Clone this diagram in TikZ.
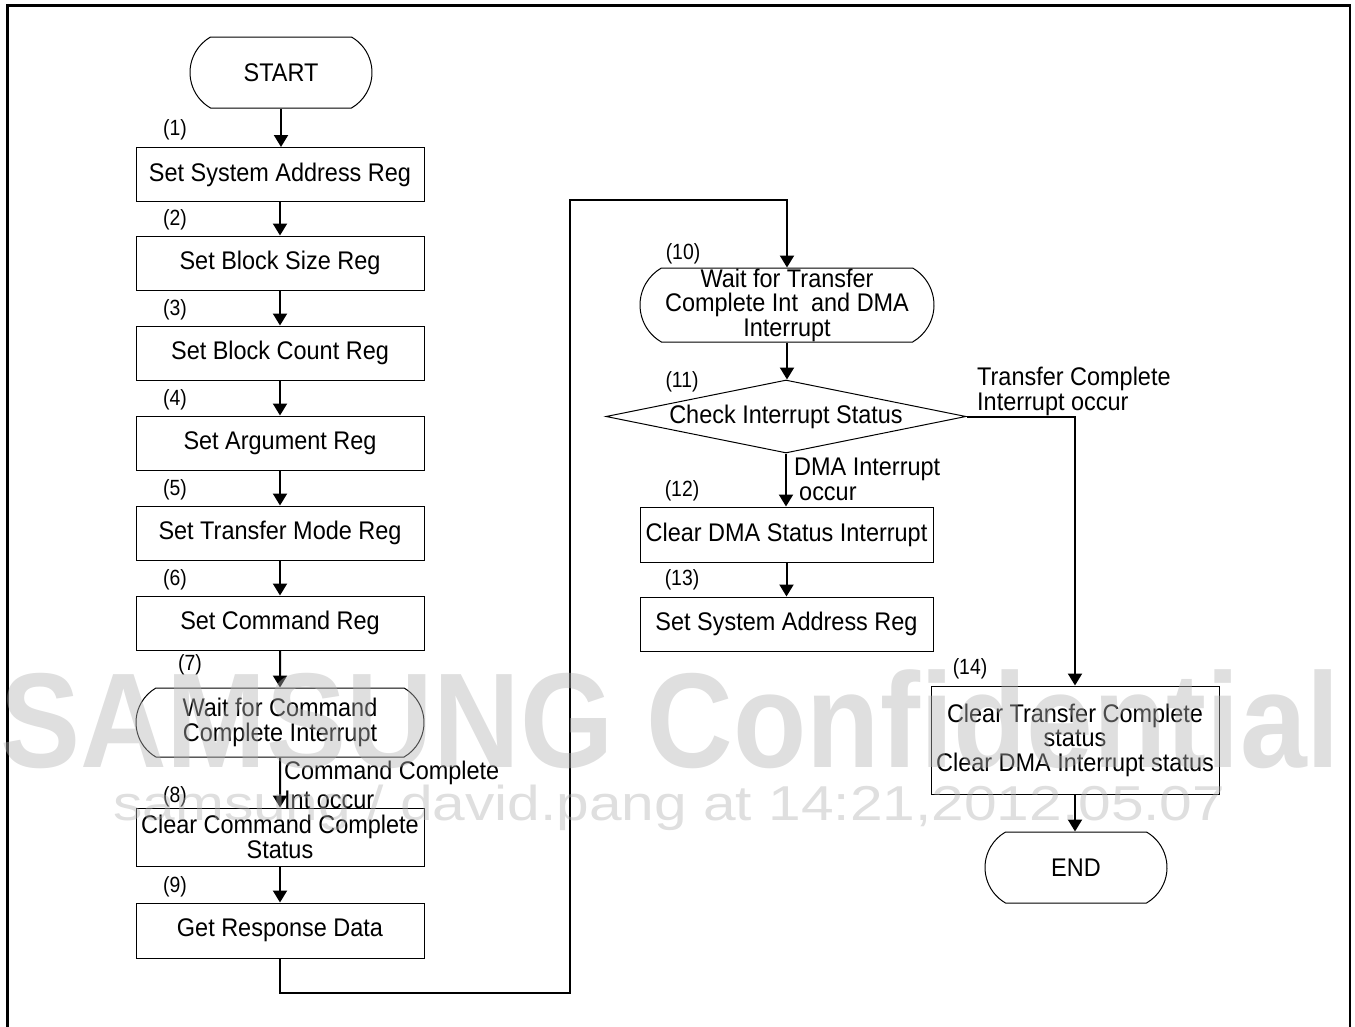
\documentclass[tikz,border=0pt]{standalone}
\usepackage{fontspec}
\usepackage{graphicx}
\setmainfont{Liberation Sans}[FakeStretch=0.92]
\newfontfamily\wmfont{Liberation Sans}
\newfontfamily\lblfamily{Liberation Sans}[FakeStretch=0.88]
\usetikzlibrary{shapes.misc,shapes.geometric,arrows.meta}
\newcommand{\boxfont}{\fontsize{25.5}{24.5}\selectfont}
\newcommand{\lblfont}{\lblfamily\fontsize{22}{24}\selectfont}
\tikzset{
  box/.style={draw, line width=1pt, minimum width=288, minimum height=54, inner sep=0pt, align=center, font=\boxfont},
  term/.style={draw, rounded rectangle, rounded rectangle arc length=120, line width=1pt, inner sep=0pt, align=center, font=\boxfont},
  dia/.style={draw, diamond, aspect=4.93, line width=1pt, minimum width=360, minimum height=73, inner sep=0pt, font=\boxfont},
  lbl/.style={inner sep=0pt, font=\lblfont},
  brlbl/.style={inner sep=0pt, align=left, anchor=west, font=\boxfont},
  arr/.style={line width=2pt, -{Triangle[length=12pt,width=14pt]}},
  wm/.style={inner sep=0pt, text=black!30, text opacity=0.42}
}
\begin{document}
\begin{tikzpicture}[x=1pt,y=-1pt]
\useasboundingbox (0,0) rectangle (1355,1026);
% frame
\draw[line width=2.5pt] (7.5,1040) -- (7.5,5.5) -- (1350,5.5) -- (1350,1040);
% left column
\node[term, minimum width=182, minimum height=71] (start) at (281,72.5) {START};
\node[box] (b1) at (280,174.5) {Set System Address Reg};
\node[box] (b2) at (280,263) {Set Block Size Reg};
\node[box] (b3) at (280,353) {Set Block Count Reg};
\node[box] (b4) at (280,443) {Set Argument Reg};
\node[box] (b5) at (280,533) {Set Transfer Mode Reg};
\node[box] (b6) at (280,623) {Set Command Reg};
\node[term, minimum width=288, minimum height=69] (t7) at (280,722.5) {Wait for Command\\Complete Interrupt};
\node[box, minimum height=58] (b8) at (280,837) {Clear Command Complete\\Status};
\node[box, minimum height=55] (b9) at (280,930.5) {Get Response Data};
% step labels
\node[lbl] (l1) at (175,130) {(1)};
\node[lbl] (l2) at (175,220) {(2)};
\node[lbl] (l3) at (175,310) {(3)};
\node[lbl] (l4) at (175,400) {(4)};
\node[lbl] (l5) at (175,490) {(5)};
\node[lbl] (l6) at (175,580) {(6)};
\node[lbl] (l7) at (190,665) {(7)};
\node[lbl] (l8) at (175,797) {(8)};
\node[lbl] (l9) at (175,887) {(9)};
% right column
\node[term, minimum width=294, minimum height=74] (t10) at (787,305) {Wait for Transfer\\Complete Int\ \ and DMA\\Interrupt};
\node[dia] (d11) at (786,416.5) {Check Interrupt Status};
\node[box, minimum width=293, minimum height=55] (b12) at (786.5,534.5) {Clear DMA Status Interrupt};
\node[box, minimum width=293, minimum height=54] (b13) at (786.5,624) {Set System Address Reg};
\node[box, minimum width=288, minimum height=108] (b14) at (1075,740) {Clear Transfer Complete\\status\\Clear DMA Interrupt status};
\node[term, minimum width=182, minimum height=71] (end) at (1076,867.5) {END};
\node[lbl] (l10) at (683,254) {(10)};
\node[lbl] (l11) at (682,382) {(11)};
\node[lbl] (l12) at (682,491) {(12)};
\node[lbl] (l13) at (682,580) {(13)};
\node[lbl] (l14) at (970,669) {(14)};
% branch labels
\node[brlbl] (cc) at (284,785) {Command Complete\\[5pt]Int occur};
\node[brlbl] (tc) at (977,391.5) {Transfer Complete\\Interrupt occur};
\node[brlbl] (dm) at (794,479.5) {DMA Interrupt\\\hspace*{5pt}occur};
% connectors
\draw[arr] (start.south) -- (start.south |- b1.north);
\draw[arr] (b1) -- (b2);
\draw[arr] (b2) -- (b3);
\draw[arr] (b3) -- (b4);
\draw[arr] (b4) -- (b5);
\draw[arr] (b5) -- (b6);
\draw[arr] (b6) -- (t7);
\draw[arr] (t7) -- (b8);
\draw[arr] (b8) -- (b9);
\coordinate (c1) at (570,993);
\coordinate (c2) at (570,200);
\draw[arr] (b9.south) |- (c1) -- (c2) -| (t10.north);
\draw[arr] (t10.south) -- (t10.south |- d11.north);
\draw[arr] (d11.south) -- (d11.south |- b12.north);
\draw[arr] (b12) -- (b13);
\draw[arr] (d11.east) -| (b14.north);
\draw[arr] (b14.south) -- (b14.south |- end.north);
% watermark
\node[wm, anchor=base west] (wm1) at (0,767) {\resizebox{1340pt}{\height}{\wmfont\bfseries\fontsize{135}{140}\selectfont SAMSUNG Confidential}};
\node[wm, anchor=base west] (wm2) at (113,820) {\resizebox{1112pt}{\height}{\wmfont\fontsize{49}{52}\selectfont samsung / david.pang at 14:21,2012.05.07}};
\end{tikzpicture}
\end{document}
